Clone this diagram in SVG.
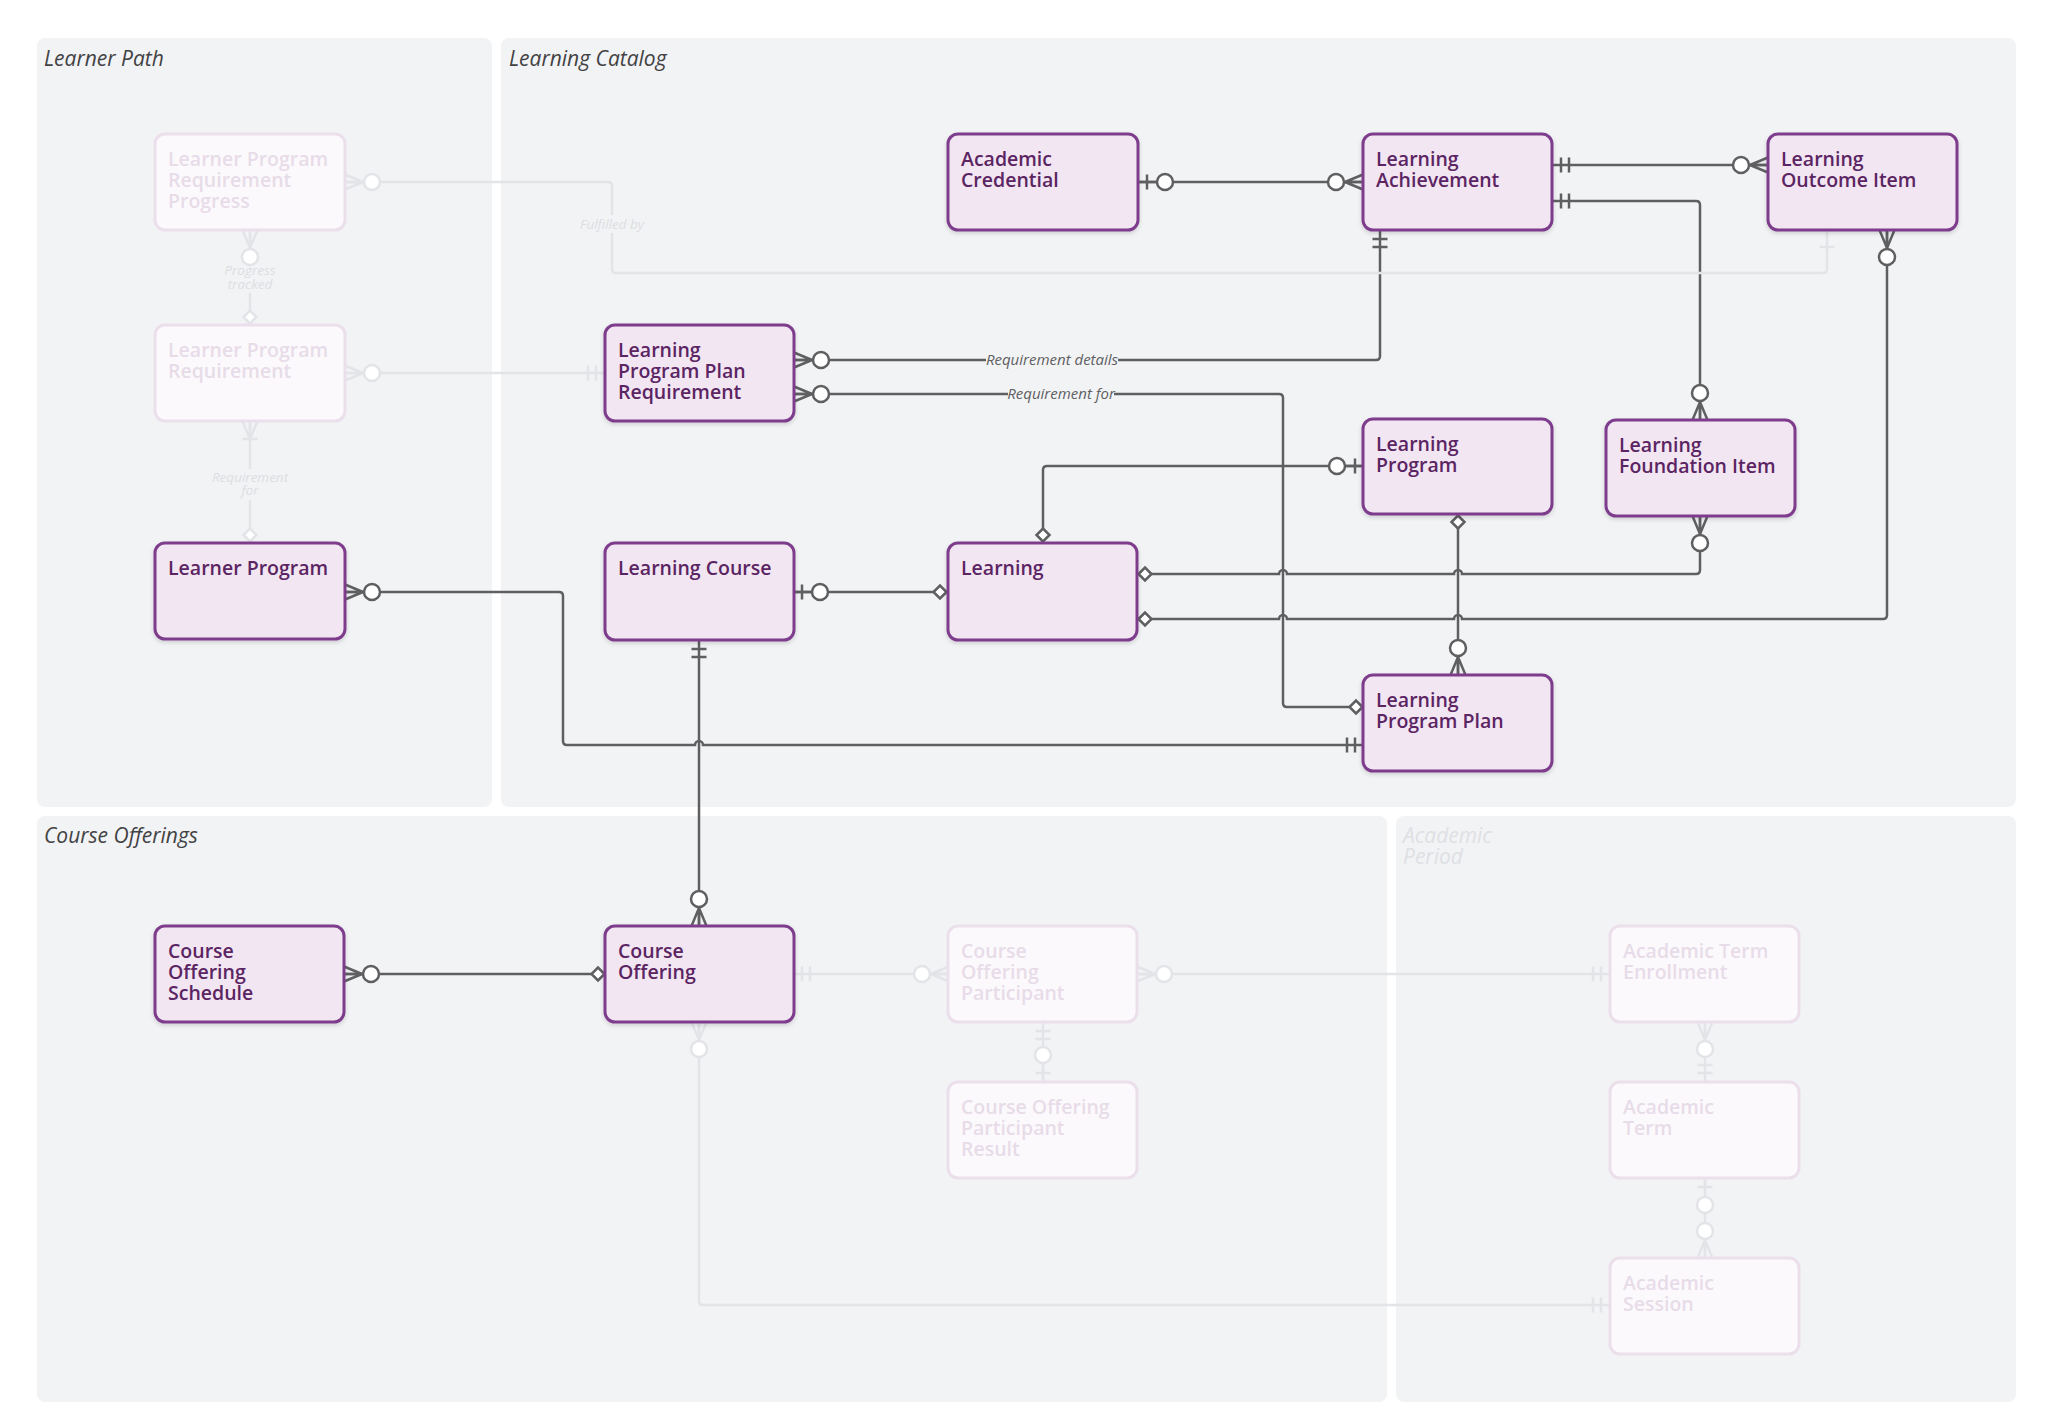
<svg xmlns="http://www.w3.org/2000/svg" width="2048" height="1426" viewBox="0 0 2048 1426">
<style>
.panel{fill:#f2f3f5}
.ptitle{font-family:"Open Sans","Noto Sans",sans-serif;font-style:italic;font-size:21px;fill:#424244}
.ptitle.f{fill:#dfe0e4}
.node rect{fill:#f2e6f3;stroke:#7e3d8c;stroke-width:3}
.node text{font-family:"Open Sans","Noto Sans",sans-serif;font-weight:600;font-size:19.5px;fill:#5b2462}
.fnode rect{fill:#fcf9fd;stroke:#ecdfec;stroke-width:3}
.fnode text{font-family:"Open Sans","Noto Sans",sans-serif;font-weight:600;font-size:19.5px;fill:#e7dce8}
.ln{fill:none;stroke:#5f5f61;stroke-width:2.5}
.fl{fill:none;stroke:#e3e4e8;stroke-width:2.5}
.mk{stroke:#5f5f61;stroke-width:2.5}
.fmk{stroke:#e3e4e8;stroke-width:2.5}
.lbl{font-family:"Open Sans","Noto Sans",sans-serif;font-style:italic;font-size:15px;fill:#5f5f61;text-anchor:middle}
.flbl{font-family:"Open Sans","Noto Sans",sans-serif;font-style:italic;font-size:13.5px;fill:#dcdee2;text-anchor:middle}
.lbg{fill:#f2f3f5}
</style>
<defs>
<filter id="sh" x="-10%" y="-10%" width="120%" height="130%">
<feDropShadow dx="0" dy="2" stdDeviation="2" flood-color="#000" flood-opacity="0.15"/>
</filter>
<g id="zm"><path d="M0,-7.5 L18,0 M0,0 L18,0 M0,7.5 L18,0" fill="none"/><circle cx="27" cy="0" r="8" fill="#fff"/></g>
<g id="zo"><path d="M9,-7.5 V7.5 M0,0 H19" fill="none"/><circle cx="27" cy="0" r="8" fill="#fff"/></g>
<g id="oo"><path d="M9,-7.5 V7.5 M17,-7.5 V7.5" fill="none"/></g>
<g id="om"><path d="M0,-7.5 L18,0 M0,0 L18,0 M0,7.5 L18,0 M18,-7.5 V7.5" fill="none"/></g>
<g id="t17"><path d="M17,-7.5 V7.5" fill="none"/></g>
<g id="dia"><path d="M1.5,0 L8,-6.5 L14.5,0 L8,6.5 Z" fill="#fff"/></g>
</defs>
<rect width="2048" height="1426" fill="#fff"/>
<g id="panels">
<rect class="panel" x="37" y="38" width="455" height="769" rx="8"/>
<rect class="panel" x="501" y="38" width="1515" height="769" rx="8"/>
<rect class="panel" x="37" y="816" width="1350" height="586" rx="8"/>
<rect class="panel" x="1396" y="816" width="620" height="586" rx="8"/>
<text class="ptitle" x="44" y="66">Learner Path</text>
<text class="ptitle" x="509" y="66">Learning Catalog</text>
<text class="ptitle" x="44" y="843">Course Offerings</text>
<text class="ptitle f" x="1403" y="843"><tspan x="1403">Academic</tspan><tspan x="1403" dy="21">Period</tspan></text>
</g>
<g id="connectors">
<path class="ln" d="M345,592 H559 Q563,592 563,596 V741 Q563,745 567,745 H695 A4,4 0 0 1 703,745 H1364"/>
<path class="ln" d="M1138,182 H1363"/>
<path class="ln" d="M1552,165 H1768"/>
<path class="ln" d="M1552,201 H1696 Q1700,201 1700,205 V420"/>
<path class="ln" d="M1380,230 V356 Q1380,360 1376,360 H794"/>
<path class="ln" d="M794,394 H1279 Q1283,394 1283,398 V703 Q1283,707 1287,707 H1364"/>
<path class="ln" d="M1043,543 V470 Q1043,466 1047,466 H1364"/>
<path class="ln" d="M793,592 H948"/>
<path class="ln" d="M1137,574 H1279 A4,4 0 0 1 1287,574 H1454 A4,4 0 0 1 1462,574 H1696 Q1700,574 1700,570 V516"/>
<path class="ln" d="M1137,619 H1279 A4,4 0 0 1 1287,619 H1454 A4,4 0 0 1 1462,619 H1883 Q1887,619 1887,615 V230"/>
<path class="ln" d="M1458,514 V675"/>
<path class="ln" d="M699,640 V926"/>
<path class="ln" d="M344,974 H606"/>
<rect class="lbg" x="986" y="351" width="132" height="18"/>
<text class="lbl" x="1052" y="365">Requirement details</text>
<rect class="lbg" x="1008" y="385" width="106" height="18"/>
<text class="lbl" x="1061" y="399">Requirement for</text>
<use href="#zm" class="mk" transform="translate(345,592)"/>
<use href="#oo" class="mk" transform="translate(1364,745) rotate(180)"/>
<use href="#zo" class="mk" transform="translate(1138,182)"/>
<use href="#zm" class="mk" transform="translate(1363,182) rotate(180)"/>
<use href="#oo" class="mk" transform="translate(1552,165)"/>
<use href="#zm" class="mk" transform="translate(1768,165) rotate(180)"/>
<use href="#oo" class="mk" transform="translate(1552,201)"/>
<use href="#zm" class="mk" transform="translate(1700,420) rotate(-90)"/>
<use href="#oo" class="mk" transform="translate(1380,230) rotate(90)"/>
<use href="#zm" class="mk" transform="translate(794,360)"/>
<use href="#zm" class="mk" transform="translate(794,394)"/>
<use href="#dia" class="mk" transform="translate(1364,707) rotate(180)"/>
<use href="#dia" class="mk" transform="translate(1043,543) rotate(-90)"/>
<use href="#zo" class="mk" transform="translate(1364,466) rotate(180)"/>
<use href="#zo" class="mk" transform="translate(793,592)"/>
<use href="#dia" class="mk" transform="translate(948,592) rotate(180)"/>
<use href="#dia" class="mk" transform="translate(1137,574)"/>
<use href="#zm" class="mk" transform="translate(1700,516) rotate(90)"/>
<use href="#dia" class="mk" transform="translate(1137,619)"/>
<use href="#zm" class="mk" transform="translate(1887,230) rotate(90)"/>
<use href="#dia" class="mk" transform="translate(1458,514) rotate(90)"/>
<use href="#zm" class="mk" transform="translate(1458,675) rotate(-90)"/>
<use href="#oo" class="mk" transform="translate(699,640) rotate(90)"/>
<use href="#zm" class="mk" transform="translate(699,926) rotate(-90)"/>
<use href="#zm" class="mk" transform="translate(344,974)"/>
<use href="#dia" class="mk" transform="translate(606,974) rotate(180)"/>
<path class="fl" d="M345,182 H608 Q612,182 612,186 V269 Q612,273 616,273 H1823 Q1827,273 1827,269 V230"/>
<path class="fl" d="M250,230 V325"/>
<path class="fl" d="M250,421 V543"/>
<path class="fl" d="M345,373 H605"/>
<path class="fl" d="M793,974 H949"/>
<path class="fl" d="M1137,974 H1610"/>
<path class="fl" d="M1043,1022 V1082"/>
<path class="fl" d="M1705,1022 V1082"/>
<path class="fl" d="M1705,1178 V1258"/>
<path class="fl" d="M699,1022 V1301 Q699,1305 703,1305 H1610"/>
<rect class="lbg" x="573" y="215" width="78" height="18"/>
<text class="flbl" x="612" y="229">Fulfilled by</text>
<rect class="lbg" x="216" y="262" width="68" height="31"/>
<text class="flbl" x="250" y="275"><tspan x="250">Progress</tspan><tspan x="250" dy="14">tracked</tspan></text>
<rect class="lbg" x="205" y="469" width="90" height="31"/>
<text class="flbl" x="250" y="482"><tspan x="250">Requirement</tspan><tspan x="250" dy="13">for</tspan></text>
<use href="#zm" class="fmk" transform="translate(345,182)"/>
<use href="#t17" class="fmk" transform="translate(1827,230) rotate(90)"/>
<use href="#zm" class="fmk" transform="translate(250,230) rotate(90)"/>
<use href="#dia" class="fmk" transform="translate(250,325) rotate(-90)"/>
<use href="#om" class="fmk" transform="translate(250,421) rotate(90)"/>
<use href="#dia" class="fmk" transform="translate(250,543) rotate(-90)"/>
<use href="#zm" class="fmk" transform="translate(345,373)"/>
<use href="#oo" class="fmk" transform="translate(605,373) rotate(180)"/>
<use href="#oo" class="fmk" transform="translate(793,974)"/>
<use href="#zm" class="fmk" transform="translate(949,974) rotate(180)"/>
<use href="#zm" class="fmk" transform="translate(1137,974)"/>
<use href="#oo" class="fmk" transform="translate(1610,974) rotate(180)"/>
<use href="#oo" class="fmk" transform="translate(1043,1022) rotate(90)"/>
<use href="#zo" class="fmk" transform="translate(1043,1082) rotate(-90)"/>
<use href="#zm" class="fmk" transform="translate(1705,1022) rotate(90)"/>
<use href="#oo" class="fmk" transform="translate(1705,1082) rotate(-90)"/>
<use href="#zo" class="fmk" transform="translate(1705,1178) rotate(90)"/>
<use href="#zm" class="fmk" transform="translate(1705,1258) rotate(-90)"/>
<use href="#zm" class="fmk" transform="translate(699,1022) rotate(90)"/>
<use href="#oo" class="fmk" transform="translate(1610,1305) rotate(180)"/>
</g>
<g id="node-lprp" class="fnode"><rect x="155" y="134" width="190" height="96" rx="10"/><text x="168" y="166"><tspan x="168">Learner Program</tspan><tspan x="168" dy="21">Requirement</tspan><tspan x="168" dy="21">Progress</tspan></text></g>
<g id="node-lpr" class="fnode"><rect x="155" y="325" width="190" height="96" rx="10"/><text x="168" y="357"><tspan x="168">Learner Program</tspan><tspan x="168" dy="21">Requirement</tspan></text></g>
<g id="node-learner-program" class="node"><rect x="155" y="543" width="190" height="96" rx="10" filter="url(#sh)"/><text x="168" y="575">Learner Program</text></g>
<g id="node-academic-credential" class="node"><rect x="948" y="134" width="190" height="96" rx="10" filter="url(#sh)"/><text x="961" y="166"><tspan x="961">Academic</tspan><tspan x="961" dy="21">Credential</tspan></text></g>
<g id="node-learning-achievement" class="node"><rect x="1363" y="134" width="189" height="96" rx="10" filter="url(#sh)"/><text x="1376" y="166"><tspan x="1376">Learning</tspan><tspan x="1376" dy="21">Achievement</tspan></text></g>
<g id="node-learning-outcome-item" class="node"><rect x="1768" y="134" width="189" height="96" rx="10" filter="url(#sh)"/><text x="1781" y="166"><tspan x="1781">Learning</tspan><tspan x="1781" dy="21">Outcome Item</tspan></text></g>
<g id="node-lppr" class="node"><rect x="605" y="325" width="189" height="96" rx="10" filter="url(#sh)"/><text x="618" y="357"><tspan x="618">Learning</tspan><tspan x="618" dy="21">Program Plan</tspan><tspan x="618" dy="21">Requirement</tspan></text></g>
<g id="node-learning-program" class="node"><rect x="1363" y="419" width="189" height="95" rx="10" filter="url(#sh)"/><text x="1376" y="451"><tspan x="1376">Learning</tspan><tspan x="1376" dy="21">Program</tspan></text></g>
<g id="node-learning-foundation-item" class="node"><rect x="1606" y="420" width="189" height="96" rx="10" filter="url(#sh)"/><text x="1619" y="452"><tspan x="1619">Learning</tspan><tspan x="1619" dy="21">Foundation Item</tspan></text></g>
<g id="node-learning-course" class="node"><rect x="605" y="543" width="189" height="97" rx="10" filter="url(#sh)"/><text x="618" y="575">Learning Course</text></g>
<g id="node-learning" class="node"><rect x="948" y="543" width="189" height="97" rx="10" filter="url(#sh)"/><text x="961" y="575">Learning</text></g>
<g id="node-learning-program-plan" class="node"><rect x="1363" y="675" width="189" height="96" rx="10" filter="url(#sh)"/><text x="1376" y="707"><tspan x="1376">Learning</tspan><tspan x="1376" dy="21">Program Plan</tspan></text></g>
<g id="node-course-offering-schedule" class="node"><rect x="155" y="926" width="189" height="96" rx="10" filter="url(#sh)"/><text x="168" y="958"><tspan x="168">Course</tspan><tspan x="168" dy="21">Offering</tspan><tspan x="168" dy="21">Schedule</tspan></text></g>
<g id="node-course-offering" class="node"><rect x="605" y="926" width="189" height="96" rx="10" filter="url(#sh)"/><text x="618" y="958"><tspan x="618">Course</tspan><tspan x="618" dy="21">Offering</tspan></text></g>
<g id="node-cop" class="fnode"><rect x="948" y="926" width="189" height="96" rx="10"/><text x="961" y="958"><tspan x="961">Course</tspan><tspan x="961" dy="21">Offering</tspan><tspan x="961" dy="21">Participant</tspan></text></g>
<g id="node-copr" class="fnode"><rect x="948" y="1082" width="189" height="96" rx="10"/><text x="961" y="1114"><tspan x="961">Course Offering</tspan><tspan x="961" dy="21">Participant</tspan><tspan x="961" dy="21">Result</tspan></text></g>
<g id="node-ate" class="fnode"><rect x="1610" y="926" width="189" height="96" rx="10"/><text x="1623" y="958"><tspan x="1623">Academic Term</tspan><tspan x="1623" dy="21">Enrollment</tspan></text></g>
<g id="node-at" class="fnode"><rect x="1610" y="1082" width="189" height="96" rx="10"/><text x="1623" y="1114"><tspan x="1623">Academic</tspan><tspan x="1623" dy="21">Term</tspan></text></g>
<g id="node-as" class="fnode"><rect x="1610" y="1258" width="189" height="96" rx="10"/><text x="1623" y="1290"><tspan x="1623">Academic</tspan><tspan x="1623" dy="21">Session</tspan></text></g>
</svg>
